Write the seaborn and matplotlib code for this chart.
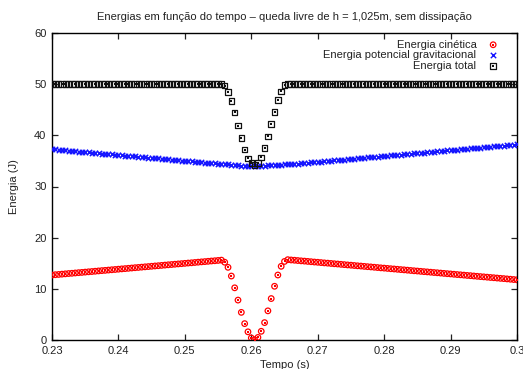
import matplotlib
matplotlib.use("Agg")
import matplotlib.pyplot as plt
import seaborn as sns
import pandas as pd
from matplotlib.legend_handler import HandlerTuple

# time samples (s)
tempo = [
    0.2300, 0.2305, 0.2310, 0.2315, 0.2320, 0.2325, 0.2330, 0.2335, 0.2340, 0.2345,
    0.2350, 0.2355, 0.2360, 0.2365, 0.2370, 0.2375, 0.2380, 0.2385, 0.2390, 0.2395,
    0.2400, 0.2405, 0.2410, 0.2415, 0.2420, 0.2425, 0.2430, 0.2435, 0.2440, 0.2445,
    0.2450, 0.2455, 0.2460, 0.2465, 0.2470, 0.2475, 0.2480, 0.2485, 0.2490, 0.2495,
    0.2500, 0.2505, 0.2510, 0.2515, 0.2520, 0.2525, 0.2530, 0.2535, 0.2540, 0.2545,
    0.2550, 0.2555, 0.2560, 0.2565, 0.2570, 0.2575, 0.2580, 0.2585, 0.2590, 0.2595,
    0.2600, 0.2605, 0.2610, 0.2615, 0.2620, 0.2625, 0.2630, 0.2635, 0.2640, 0.2645,
    0.2650, 0.2655, 0.2660, 0.2665, 0.2670, 0.2675, 0.2680, 0.2685, 0.2690, 0.2695,
    0.2700, 0.2705, 0.2710, 0.2715, 0.2720, 0.2725, 0.2730, 0.2735, 0.2740, 0.2745,
    0.2750, 0.2755, 0.2760, 0.2765, 0.2770, 0.2775, 0.2780, 0.2785, 0.2790, 0.2795,
    0.2800, 0.2805, 0.2810, 0.2815, 0.2820, 0.2825, 0.2830, 0.2835, 0.2840, 0.2845,
    0.2850, 0.2855, 0.2860, 0.2865, 0.2870, 0.2875, 0.2880, 0.2885, 0.2890, 0.2895,
    0.2900, 0.2905, 0.2910, 0.2915, 0.2920, 0.2925, 0.2930, 0.2935, 0.2940, 0.2945,
    0.2950, 0.2955, 0.2960, 0.2965, 0.2970, 0.2975, 0.2980, 0.2985, 0.2990, 0.2995,
    0.3000,
]

energia_cinetica = [
    12.70, 12.76, 12.81, 12.87, 12.93, 12.99, 13.04, 13.10, 13.16, 13.21,
    13.27, 13.33, 13.38, 13.44, 13.50, 13.56, 13.61, 13.67, 13.73, 13.78,
    13.84, 13.90, 13.95, 14.01, 14.07, 14.13, 14.18, 14.24, 14.30, 14.35,
    14.41, 14.47, 14.52, 14.58, 14.64, 14.70, 14.75, 14.81, 14.87, 14.92,
    14.98, 15.04, 15.09, 15.15, 15.21, 15.27, 15.32, 15.38, 15.44, 15.49,
    15.55, 15.61, 15.20, 14.20, 12.50, 10.20, 7.80, 5.40, 3.20, 1.60,
    0.40, 0.05, 0.50, 1.70, 3.40, 5.70, 8.10, 10.50, 12.70, 14.40,
    15.35, 15.70, 15.64, 15.59, 15.53, 15.47, 15.42, 15.36, 15.30, 15.24,
    15.19, 15.13, 15.07, 15.02, 14.96, 14.90, 14.85, 14.79, 14.73, 14.67,
    14.62, 14.56, 14.50, 14.45, 14.39, 14.33, 14.28, 14.22, 14.16, 14.10,
    14.05, 13.99, 13.93, 13.88, 13.82, 13.76, 13.71, 13.65, 13.59, 13.53,
    13.48, 13.42, 13.36, 13.31, 13.25, 13.19, 13.14, 13.08, 13.02, 12.96,
    12.91, 12.85, 12.79, 12.74, 12.68, 12.62, 12.57, 12.51, 12.45, 12.39,
    12.34, 12.28, 12.22, 12.17, 12.11, 12.05, 12.00, 11.94, 11.88, 11.82,
    11.77,
]

energia_potencial = [
    37.30, 37.24, 37.19, 37.13, 37.07, 37.01, 36.96, 36.90, 36.84, 36.79,
    36.73, 36.67, 36.62, 36.56, 36.50, 36.44, 36.39, 36.33, 36.27, 36.22,
    36.16, 36.10, 36.05, 35.99, 35.93, 35.87, 35.82, 35.76, 35.70, 35.65,
    35.59, 35.53, 35.48, 35.42, 35.36, 35.30, 35.25, 35.19, 35.13, 35.08,
    35.02, 34.96, 34.91, 34.85, 34.79, 34.73, 34.68, 34.62, 34.56, 34.51,
    34.45, 34.39, 34.35, 34.30, 34.25, 34.20, 34.15, 34.10, 34.07, 34.05,
    34.02, 34.00, 34.02, 34.05, 34.08, 34.12, 34.16, 34.20, 34.24, 34.28,
    34.32, 34.30, 34.36, 34.41, 34.47, 34.53, 34.58, 34.64, 34.70, 34.76,
    34.81, 34.87, 34.93, 34.98, 35.04, 35.10, 35.15, 35.21, 35.27, 35.33,
    35.38, 35.44, 35.50, 35.55, 35.61, 35.67, 35.72, 35.78, 35.84, 35.90,
    35.95, 36.01, 36.07, 36.12, 36.18, 36.24, 36.29, 36.35, 36.41, 36.47,
    36.52, 36.58, 36.64, 36.69, 36.75, 36.81, 36.86, 36.92, 36.98, 37.04,
    37.09, 37.15, 37.21, 37.26, 37.32, 37.38, 37.43, 37.49, 37.55, 37.61,
    37.66, 37.72, 37.78, 37.83, 37.89, 37.95, 38.00, 38.06, 38.12, 38.18,
    38.23,
]

energia_total = [
    50.0, 50.0, 50.0, 50.0, 50.0, 50.0, 50.0, 50.0, 50.0, 50.0,
    50.0, 50.0, 50.0, 50.0, 50.0, 50.0, 50.0, 50.0, 50.0, 50.0,
    50.0, 50.0, 50.0, 50.0, 50.0, 50.0, 50.0, 50.0, 50.0, 50.0,
    50.0, 50.0, 50.0, 50.0, 50.0, 50.0, 50.0, 50.0, 50.0, 50.0,
    50.0, 50.0, 50.0, 50.0, 50.0, 50.0, 50.0, 50.0, 50.0, 50.0,
    50.0, 50.0, 49.7, 48.5, 46.7, 44.5, 41.9, 39.5, 37.2, 35.5,
    34.6, 34.2, 34.6, 35.7, 37.5, 39.8, 42.2, 44.6, 46.9, 48.6,
    49.8, 50.0, 50.0, 50.0, 50.0, 50.0, 50.0, 50.0, 50.0, 50.0,
    50.0, 50.0, 50.0, 50.0, 50.0, 50.0, 50.0, 50.0, 50.0, 50.0,
    50.0, 50.0, 50.0, 50.0, 50.0, 50.0, 50.0, 50.0, 50.0, 50.0,
    50.0, 50.0, 50.0, 50.0, 50.0, 50.0, 50.0, 50.0, 50.0, 50.0,
    50.0, 50.0, 50.0, 50.0, 50.0, 50.0, 50.0, 50.0, 50.0, 50.0,
    50.0, 50.0, 50.0, 50.0, 50.0, 50.0, 50.0, 50.0, 50.0, 50.0,
    50.0, 50.0, 50.0, 50.0, 50.0, 50.0, 50.0, 50.0, 50.0, 50.0,
    50.0,
]

x_ticks = [0.23, 0.24, 0.25, 0.26, 0.27, 0.28, 0.29, 0.30]
x_tick_labels = ["0.23", "0.24", "0.25", "0.26", "0.27", "0.28", "0.29", "0.3"]
y_ticks = [0, 10, 20, 30, 40, 50, 60]

label_cin = "Energia cinética"
label_pot = "Energia potencial gravitacional"
label_tot = "Energia total"
titulo = "Energias em função do tempo – queda livre de h = 1,025m, sem dissipação"

df = pd.DataFrame({
    "t": tempo,
    "cin": energia_cinetica,
    "pot": energia_potencial,
    "tot": energia_total,
})

sns.set_style("ticks")
plt.rcParams["font.family"] = ["Liberation Sans", "DejaVu Sans"]
plt.rcParams["xtick.direction"] = "in"
plt.rcParams["ytick.direction"] = "in"

fig = plt.figure(figsize=(5.23, 3.69), dpi=100)
ax = fig.add_axes([52 / 523, 1 - 340 / 369, (517 - 52) / 523, (340 - 33) / 369])

RED = "#ff0000"
BLUE = "#1414ff"
BLACK = "#111111"

# kinetic energy: open circles with a centre dot
sns.scatterplot(data=df, x="t", y="cin", ax=ax, marker="o", s=16,
                color=RED, zorder=3)
h_cin = ax.collections[-1]
h_cin.set_facecolor("none")
h_cin.set_edgecolor(RED)
h_cin.set_linewidth(0.9)
sns.scatterplot(data=df, x="t", y="cin", ax=ax, marker="s", s=0.6,
                color=RED, linewidth=0, zorder=3)
d_cin = ax.collections[-1]

# potential energy: crosses
sns.scatterplot(data=df, x="t", y="pot", ax=ax, marker="x", s=15,
                color=BLUE, zorder=3, linewidth=1.0)
h_pot = ax.collections[-1]

# total energy: open squares with a centre dot
sns.scatterplot(data=df, x="t", y="tot", ax=ax, marker="s", s=16,
                color=BLACK, zorder=4)
h_tot = ax.collections[-1]
h_tot.set_facecolor("none")
h_tot.set_edgecolor(BLACK)
h_tot.set_linewidth(0.9)
sns.scatterplot(data=df, x="t", y="tot", ax=ax, marker="s", s=0.6,
                color=BLACK, linewidth=0, zorder=4)
d_tot = ax.collections[-1]

ax.set_xlim(0.23, 0.30)
ax.set_ylim(0, 60)
ax.set_xticks(x_ticks)
ax.set_xticklabels(x_tick_labels)
ax.set_yticks(y_ticks)
ax.tick_params(axis="both", which="both", direction="in", length=4, width=0.9,
               top=True, right=True, labelsize=8, colors="#222222", pad=4)
for sp in ax.spines.values():
    sp.set_visible(True)
    sp.set_linewidth(1.0)
    sp.set_color("black")

ax.set_xlabel("Tempo (s)", fontsize=8, color="#222222", labelpad=3)
ax.set_ylabel("Energia (J)", fontsize=8, color="#222222", labelpad=11)
fig.text(0.5 * (52 + 517) / 523, 1 - 17 / 369, titulo, ha="center", va="center",
         fontsize=8, color="#222222")

leg = ax.legend([(h_cin, d_cin), h_pot, (h_tot, d_tot)],
                [label_cin, label_pot, label_tot],
                handler_map={tuple: HandlerTuple(ndivide=1, pad=0)},
                loc="upper right", markerfirst=False, frameon=False, fontsize=8,
                scatterpoints=1, handlelength=1.0, handletextpad=1.0,
                labelspacing=0.05, borderaxespad=0.2,
                bbox_to_anchor=(0.975, 1.0))
for txt in leg.get_texts():
    txt.set_color("#222222")

fig.savefig("out.png", dpi=100)
